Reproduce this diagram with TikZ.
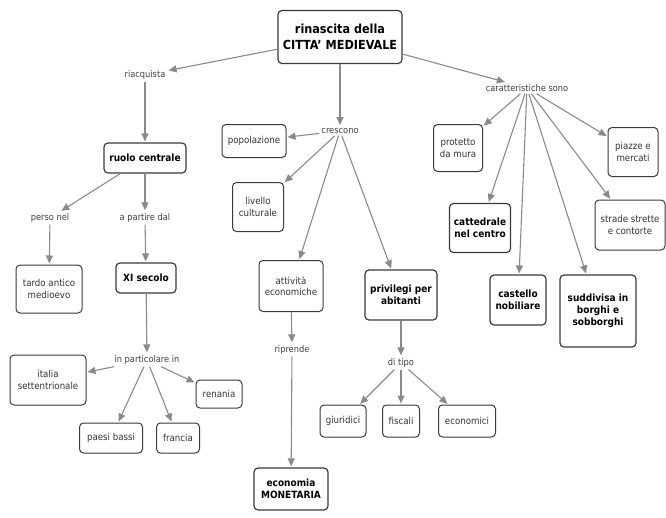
\documentclass[tikz,border=0pt]{standalone}
\usepackage{fontspec}
\setmainfont{DejaVu Sans Condensed}
\usetikzlibrary{arrows.meta}
\definecolor{edgegray}{HTML}{8A8A8A}
\definecolor{boxline}{HTML}{3A3A3A}
\tikzset{
  concept/.style={draw=boxline, line width=1pt, rounded corners=4pt, fill=white, align=center, inner sep=2pt, font=\fontsize{9.6}{11.5}\selectfont, text=black!80},
  bconcept/.style={concept, font=\fontsize{10}{12}\selectfont\bfseries, line width=1.2pt, text=black},
  link/.style={align=center, inner sep=2pt, font=\fontsize{9.2}{11}\selectfont, text=black!75},
  conn/.style={draw=edgegray, line width=1.1pt, -{Triangle[width=7pt,length=8pt]}, shorten >=1pt}
}
\begin{document}
\begin{tikzpicture}[x=1pt,y=-1pt]
\useasboundingbox (0,0) rectangle (666,517);
% concepts
\node[bconcept, minimum width=124pt, minimum height=53pt, font=\fontsize{12.5}{16}\selectfont\bfseries] (root) at (340,37) {rinascita della\\CITTA' MEDIEVALE};
\node[bconcept, minimum width=82pt, minimum height=30pt] (ruolo) at (145,158) {ruolo centrale};
\node[concept, minimum width=66pt, minimum height=48pt] (tardo) at (49,289) {tardo antico\\medioevo};
\node[bconcept, minimum width=60pt, minimum height=30pt] (xi) at (146,278) {XI secolo};
\node[concept, minimum width=76pt, minimum height=50pt] (italia) at (48,380) {italia\\settentrionale};
\node[concept, minimum width=46pt, minimum height=28pt] (renania) at (219,394) {renania};
\node[concept, minimum width=63pt, minimum height=30pt] (paesi) at (111,438) {paesi bassi};
\node[concept, minimum width=43pt, minimum height=30pt] (francia) at (178,438) {francia};
\node[concept, minimum width=64pt, minimum height=33pt] (pop) at (254,141) {popolazione};
\node[concept, minimum width=51pt, minimum height=49pt] (livello) at (258,207) {livello\\culturale};
\node[concept, minimum width=64pt, minimum height=51pt] (attivita) at (291,286) {attività\\economiche};
\node[bconcept, minimum width=74pt, minimum height=42pt] (moneta) at (291,489) {economia\\MONETARIA};
\node[bconcept, minimum width=72pt, minimum height=50pt] (priv) at (401,295) {privilegi per\\abitanti};
\node[concept, minimum width=46pt, minimum height=32pt] (giur) at (343,421) {giuridici};
\node[concept, minimum width=37pt, minimum height=32pt] (fisc) at (401,421) {fiscali};
\node[concept, minimum width=57pt, minimum height=32pt] (econ) at (467,421) {economici};
\node[concept, minimum width=49pt, minimum height=47pt] (protetto) at (458,148) {protetto\\da mura};
\node[concept, minimum width=50pt, minimum height=49pt] (piazze) at (633,152) {piazze e\\mercati};
\node[bconcept, minimum width=61pt, minimum height=49pt] (catt) at (480,228) {cattedrale\\nel centro};
\node[concept, minimum width=70pt, minimum height=50pt] (strade) at (630,225) {strade strette\\e contorte};
\node[bconcept, minimum width=56pt, minimum height=50pt] (castello) at (518,300) {castello\\nobiliare};
\node[bconcept, minimum width=76pt, minimum height=72pt] (sudd) at (598,311) {suddivisa in\\borghi e\\sobborghi};
% linking phrases
\node[link] (riacq) at (145,75) {riacquista};
\node[link] (perso) at (50,218) {perso nel};
\node[link] (apart) at (145,218) {a partire dal};
\node[link] (inpart) at (147,360) {in particolare in};
\node[link] (cresc) at (340,131) {crescono};
\node[link] (ripr) at (292,350) {riprende};
\node[link] (ditipo) at (401,363) {di tipo};
\node[link] (caratt) at (527,88) {caratteristiche sono};
% connectors
\draw[conn] (root) -- (riacq);
\draw[conn] (root) -- (cresc);
\draw[conn] (root) -- (caratt);
\draw[conn] (riacq) -- (ruolo);
\draw[conn] (ruolo) -- (perso);
\draw[conn] (ruolo) -- (apart);
\draw[conn] (perso) -- (tardo);
\draw[conn] (apart) -- (xi);
\draw[conn] (xi) -- (inpart);
\draw[conn] (inpart) -- (italia);
\draw[conn] (inpart) -- (renania);
\draw[conn] (inpart) -- (paesi);
\draw[conn] (inpart) -- (francia);
\draw[conn] (cresc) -- (pop);
\draw[conn] (cresc) -- (livello);
\draw[conn] (cresc) -- (attivita);
\draw[conn] (cresc) -- (priv);
\draw[conn] (attivita) -- (ripr);
\draw[conn] (ripr) -- (moneta);
\draw[conn] (priv) -- (ditipo);
\draw[conn] (ditipo) -- (giur);
\draw[conn] (ditipo) -- (fisc);
\draw[conn] (ditipo) -- (econ);
\draw[conn] (caratt) -- (protetto);
\draw[conn] (caratt) -- (catt);
\draw[conn] (caratt) -- (castello);
\draw[conn] (caratt) -- (sudd);
\draw[conn] (caratt) -- (strade);
\draw[conn] (caratt) -- (piazze);
\end{tikzpicture}
\end{document}
